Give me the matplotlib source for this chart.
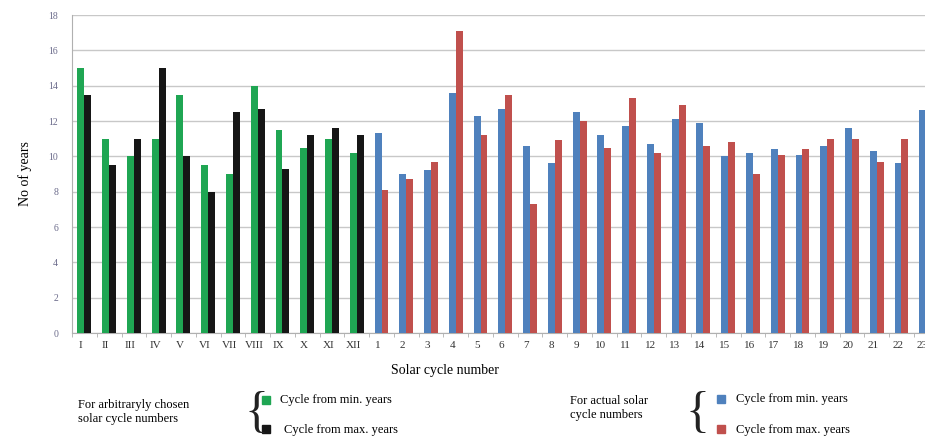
import numpy as np
import matplotlib.pyplot as plt
from matplotlib.patches import Rectangle

# cycle labels
roman_labels = ['I', 'II', 'III', 'IV', 'V', 'VI', 'VII', 'VIII', 'IX', 'X', 'XI', 'XII']
actual_labels = [str(i) for i in range(1, 24)]

# arbitrarily chosen cycles (years)
arb_from_min = [15.0, 11.0, 10.0, 11.0, 13.5, 9.5, 9.0, 14.0, 11.5, 10.5, 11.0, 10.2]
arb_from_max = [13.5, 9.5, 11.0, 15.0, 10.0, 8.0, 12.5, 12.7, 9.3, 11.2, 11.6, 11.2]

# actual solar cycles (years)
act_from_min = [11.3, 9.0, 9.2, 13.6, 12.3, 12.7, 10.6, 9.6, 12.5, 11.2, 11.7, 10.7,
                12.1, 11.9, 10.0, 10.2, 10.4, 10.1, 10.6, 11.6, 10.3, 9.6, 12.6]
act_from_max = [8.1, 8.7, 9.7, 17.1, 11.2, 13.5, 7.3, 10.9, 12.0, 10.5, 13.3, 10.2,
                12.9, 10.6, 10.8, 9.0, 10.1, 10.4, 11.0, 11.0, 9.7, 11.0, 10.6]

GREEN = '#1fa653'
BLACK = '#161616'
BLUE = '#4f81bd'
RED = '#c0504d'
W, H = 925, 436

plt.rcParams['font.family'] = ['Liberation Serif', 'DejaVu Serif']

fig = plt.figure(figsize=(W / 100, H / 100), dpi=100)
ax = fig.add_axes([72 / W, 1 - 333 / H, 1 - 72 / W, (333 - 15) / H])

w = 0.28
xa = np.arange(len(roman_labels))
xb = np.arange(len(actual_labels)) + len(roman_labels)
ax.bar(xa - w / 2, arb_from_min, w, color=GREEN, zorder=3)
ax.bar(xa + w / 2, arb_from_max, w, color=BLACK, zorder=3)
ax.bar(xb - w / 2, act_from_min, w, color=BLUE, zorder=3)
ax.bar(xb + w / 2, act_from_max, w, color=RED, zorder=3)

ax.set_xlim(-0.5, 33.95)
ax.set_ylim(0, 18)
ax.set_yticks(range(0, 19, 2))
ax.set_xticks(np.concatenate([xa, xb]) - 0.15)
ax.set_xticklabels(roman_labels + actual_labels, fontsize=8, color='#333333')
ax.tick_params(axis='x', length=0, pad=6)
ax.tick_params(axis='y', labelsize=7, colors='#6a6a8a', length=0, pad=10)
ax.set_xticks(np.arange(-0.5, 34.5, 1), minor=True)
ax.tick_params(axis='x', which='minor', length=3, color='#b0b0b0')
ax.grid(axis='y', color='#c8c8c8', linewidth=1, zorder=0)
for s in ['top', 'right']:
    ax.spines[s].set_visible(False)
ax.spines['left'].set_color('#b0b0b0')
ax.spines['bottom'].set_color('#b0b0b0')

ax.set_ylabel('No of years', fontsize=10, labelpad=12)
fig.text(445 / W, 1 - 370 / H, 'Solar cycle number', fontsize=10, ha='center', va='center')


def ftext(x, y, s, **kw):
    fig.text(x / W, 1 - y / H, s, **kw)


def square(x, y, color):
    fig.patches.append(Rectangle((x / W, 1 - (y + 4) / H), 8 / W, 8 / H,
                                 color=color, transform=fig.transFigure, figure=fig))


# legend: arbitrary cycles
ftext(78, 412, 'For arbitraryly chosen\nsolar cycle numbers', fontsize=9, va='center', linespacing=1.3)
ftext(244, 414, '{', fontsize=36, va='center', color='#222222')
square(262, 400, GREEN)
ftext(280, 400, 'Cycle from min. years', fontsize=9, va='center')
square(262, 429, BLACK)
ftext(284, 430, 'Cycle from max. years', fontsize=9, va='center')

# legend: actual cycles
ftext(570, 408, 'For actual solar\ncycle numbers', fontsize=9, va='center', linespacing=1.3)
ftext(686, 414, '{', fontsize=36, va='center', color='#222222')
square(717, 399, BLUE)
ftext(736, 399, 'Cycle from min. years', fontsize=9, va='center')
square(717, 429, RED)
ftext(736, 430, 'Cycle from max. years', fontsize=9, va='center')

fig.savefig('out.png', dpi=100)
